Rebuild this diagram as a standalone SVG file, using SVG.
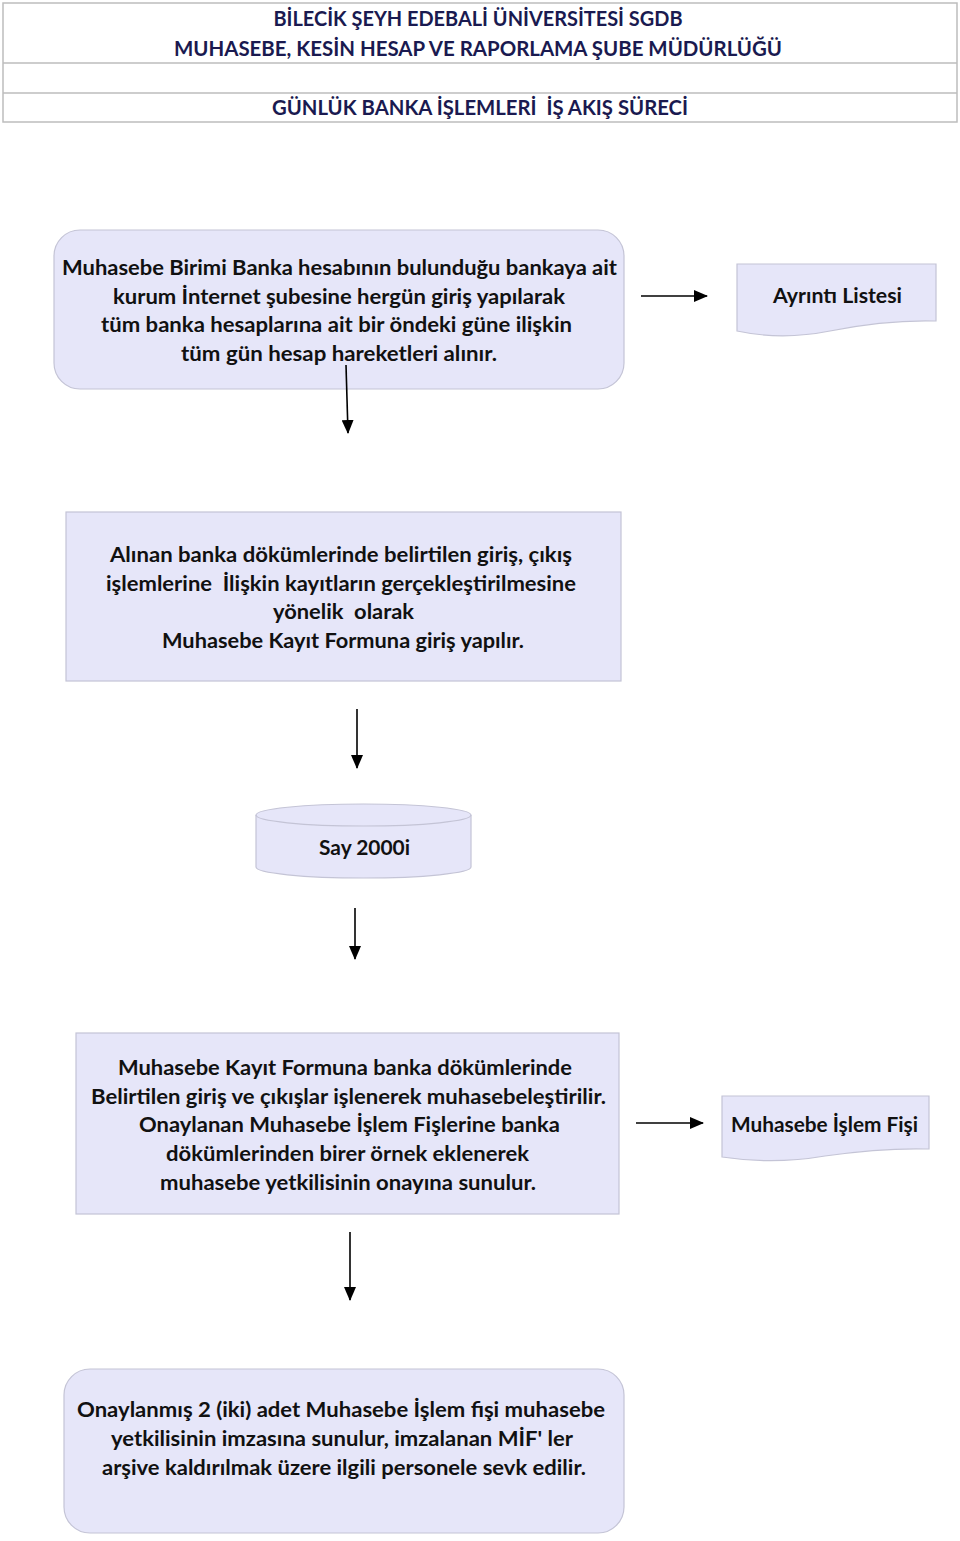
<svg xmlns="http://www.w3.org/2000/svg" width="960" height="1541" viewBox="0 0 960 1541">
<style>
.t{font-family:Lato,"Open Sans","Liberation Sans",sans-serif;font-weight:bold;font-size:21px;fill:#111;text-anchor:middle;}
.h{font-family:Lato,"Open Sans","Liberation Sans",sans-serif;font-weight:bold;font-size:21px;fill:#1a1a50;text-anchor:middle;}
.box{fill:#e6e6f9;stroke:#c4c4d6;stroke-width:1.2;}
.hd{fill:none;stroke:#bdbdbd;stroke-width:1.5;}
.c{stroke:#000;stroke-width:1.6;fill:none;marker-end:url(#ah);}
</style>
<defs>
<marker id="ah" markerWidth="14" markerHeight="12" refX="13" refY="6" orient="auto" markerUnits="userSpaceOnUse" viewBox="0 0 14 12">
<path d="M0,0 L14,6 L0,12 Z" fill="#000"/>
</marker>
</defs>
<rect width="960" height="1541" fill="#fff"/>
<g id="header">
<rect class="hd" x="3" y="3" width="954" height="119"/>
<line class="hd" x1="3" y1="63" x2="957" y2="63"/>
<line class="hd" x1="3" y1="93" x2="957" y2="93"/>
<text class="h" x="478" y="26" textLength="409" lengthAdjust="spacingAndGlyphs">BİLECİK ŞEYH EDEBALİ ÜNİVERSİTESİ SGDB</text>
<text class="h" x="478" y="56" textLength="608" lengthAdjust="spacingAndGlyphs">MUHASEBE, KESİN HESAP VE RAPORLAMA ŞUBE MÜDÜRLÜĞÜ</text>
<text class="h" x="480" y="115" textLength="416" lengthAdjust="spacingAndGlyphs" xml:space="preserve">GÜNLÜK BANKA İŞLEMLERİ  İŞ AKIŞ SÜRECİ</text>
</g>
<g id="node1">
<rect class="box" x="54" y="230" width="570" height="159" rx="26" ry="26"/>
<text class="t" x="339.5" y="275" textLength="555" lengthAdjust="spacingAndGlyphs">Muhasebe Birimi Banka hesabının bulunduğu bankaya ait</text>
<text class="t" x="339" y="304" textLength="452" lengthAdjust="spacingAndGlyphs">kurum İnternet şubesine hergün giriş yapılarak</text>
<text class="t" x="336.5" y="332" textLength="471" lengthAdjust="spacingAndGlyphs">tüm banka hesaplarına ait bir öndeki güne ilişkin</text>
<text class="t" x="339" y="361" textLength="316" lengthAdjust="spacingAndGlyphs">tüm gün hesap hareketleri alınır.</text>
</g>
<g id="ayrinti">
<path class="box" d="M737,264 H936 V321 C900,320 865,324 830,331 C795,338 765,337 737,331 Z"/>
<text class="t" x="837.5" y="303" textLength="129" lengthAdjust="spacingAndGlyphs">Ayrıntı Listesi</text>
</g>
<g id="node2">
<rect class="box" x="66" y="512" width="555" height="169"/>
<text class="t" x="341" y="562" textLength="462" lengthAdjust="spacingAndGlyphs">Alınan banka dökümlerinde belirtilen giriş, çıkış</text>
<text class="t" x="341" y="591" textLength="470" lengthAdjust="spacingAndGlyphs" xml:space="preserve">işlemlerine  İlişkin kayıtların gerçekleştirilmesine</text>
<text class="t" x="343.5" y="619" textLength="141" lengthAdjust="spacingAndGlyphs" xml:space="preserve">yönelik  olarak</text>
<text class="t" x="343" y="648" textLength="362" lengthAdjust="spacingAndGlyphs">Muhasebe Kayıt Formuna giriş yapılır.</text>
</g>
<g id="say2000i">
<path class="box" d="M256,815 A107.5,11 0 0 1 471,815 V867 A107.5,11 0 0 1 256,867 Z"/>
<path fill="none" stroke="#c4c4d6" stroke-width="1.2" d="M256,815 A107.5,11 0 0 0 471,815"/>
<text class="t" x="364.5" y="855" textLength="91" lengthAdjust="spacingAndGlyphs">Say 2000i</text>
</g>
<g id="node4">
<rect class="box" x="76" y="1033" width="543" height="181"/>
<text class="t" x="345" y="1075" textLength="454" lengthAdjust="spacingAndGlyphs">Muhasebe Kayıt Formuna banka dökümlerinde</text>
<text class="t" x="348.5" y="1104" textLength="515" lengthAdjust="spacingAndGlyphs">Belirtilen giriş ve çıkışlar işlenerek muhasebeleştirilir.</text>
<text class="t" x="349.5" y="1132" textLength="421" lengthAdjust="spacingAndGlyphs">Onaylanan Muhasebe İşlem Fişlerine banka</text>
<text class="t" x="347.5" y="1161" textLength="363" lengthAdjust="spacingAndGlyphs">dökümlerinden birer örnek eklenerek</text>
<text class="t" x="348" y="1190" textLength="376" lengthAdjust="spacingAndGlyphs">muhasebe yetkilisinin onayına sunulur.</text>
</g>
<g id="mif">
<path class="box" d="M722,1096 H929 V1149 C895,1148 860,1151 825,1156 C790,1162 755,1162 722,1157 Z"/>
<text class="t" x="824.5" y="1132" textLength="187" lengthAdjust="spacingAndGlyphs">Muhasebe İşlem Fişi</text>
</g>
<g id="node5">
<rect class="box" x="64" y="1369" width="560" height="164" rx="26" ry="26"/>
<text class="t" x="341" y="1417" textLength="528" lengthAdjust="spacingAndGlyphs">Onaylanmış 2 (iki) adet Muhasebe İşlem fişi muhasebe</text>
<text class="t" x="342" y="1446" textLength="462" lengthAdjust="spacingAndGlyphs">yetkilisinin imzasına sunulur, imzalanan MİF' ler</text>
<text class="t" x="344" y="1475" textLength="484" lengthAdjust="spacingAndGlyphs">arşive kaldırılmak üzere ilgili personele sevk edilir.</text>
</g>
<g id="connectors">
<line class="c" x1="346" y1="365" x2="348" y2="433"/>
<line class="c" x1="641" y1="296" x2="707" y2="296"/>
<line class="c" x1="357" y1="709" x2="357" y2="768"/>
<line class="c" x1="355" y1="908" x2="355" y2="959"/>
<line class="c" x1="636" y1="1123" x2="703" y2="1123"/>
<line class="c" x1="350" y1="1232" x2="350" y2="1300"/>
</g>
</svg>
